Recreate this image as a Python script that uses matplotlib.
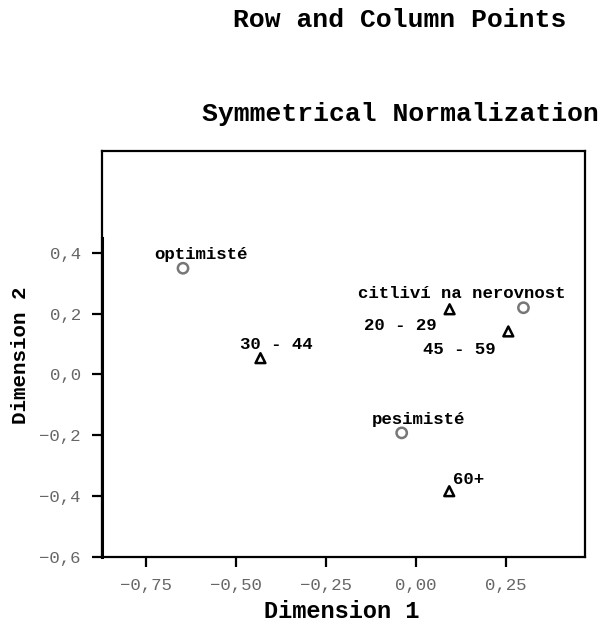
import numpy as np
import matplotlib
matplotlib.use("Agg")
from matplotlib import pyplot as plt

# row points (circles) and column points (triangles)
row_labels = ["optimisté", "citliví na nerovnost", "pesimisté"]
row_x = [-0.646, 0.299, -0.039]
row_y = [0.349, 0.219, -0.193]

col_labels = ["20 - 29", "30 - 44", "45 - 59", "60+"]
col_x = [0.094, -0.431, 0.257, 0.093]
col_y = [0.214, 0.053, 0.141, -0.385]

xticks = [-0.75, -0.50, -0.25, 0.00, 0.25]
yticks = [-0.6, -0.4, -0.2, 0.0, 0.2, 0.4]

# label offsets in pixels (dx, dy)
row_off = [(18, 14), (-62, 14), (17, 13)]
col_off = [(-49, -16), (16, 14), (-49, -18), (19, 12)]

font = "Liberation Mono"
plt.rcParams['font.family'] = [font, 'DejaVu Sans']

fig = plt.figure(figsize=(6.0, 6.23), dpi=100)
ax = fig.add_axes([102.3 / 600, 1 - 556.5 / 623, (584.7 - 102.3) / 600, (556.5 - 151) / 623])

ax.scatter(row_x, row_y, s=55, facecolors='none', edgecolors='#777777', linewidths=1.8, marker='o', zorder=3)
ax.scatter(col_x, col_y, s=50, facecolors='none', edgecolors='black', linewidths=1.8, marker='^', zorder=3)

for lab, x, y, off in zip(row_labels, row_x, row_y, row_off):
    ax.annotate(lab, (x, y), xytext=off, textcoords='offset pixels', ha='center', va='center',
                fontsize=12.5, fontweight='bold')
for lab, x, y, off in zip(col_labels, col_x, col_y, col_off):
    ax.annotate(lab, (x, y), xytext=off, textcoords='offset pixels', ha='center', va='center',
                fontsize=12.5, fontweight='bold')

ax.set_xlim(-0.870, 0.469)
ax.set_ylim(-0.6, 0.735)
ax.set_xticks(xticks)
ax.set_yticks(yticks)
ax.set_xticklabels([("%.2f" % v).replace(".", ",").replace("-", "\u2212") for v in xticks])
ax.set_yticklabels([("%.1f" % v).replace(".", ",").replace("-", "\u2212") for v in yticks])
ax.tick_params(direction='out', length=7.5, width=1.6, labelsize=12.5, labelcolor='#666666', pad=8)

for sp in ax.spines.values():
    sp.set_linewidth(1.6)

# slightly heavier axis line on the left, up to the data range
ax.axvline(ax.get_xlim()[0], ymin=0, ymax=(0.45 + 0.6) / (0.735 + 0.6), color='black', lw=2.2, clip_on=False)

fig.text(400 / 600, 1 - 20 / 623, "Row and Column Points", ha='center', va='center', fontsize=19, fontweight='bold')
fig.text(400 / 600, 1 - 114 / 623, "Symmetrical Normalization", ha='center', va='center', fontsize=19, fontweight='bold')
fig.text(341.5 / 600, 1 - 612 / 623, "Dimension 1", ha='center', va='center', fontsize=17, fontweight='bold')
fig.text(21 / 600, 1 - 355 / 623, "Dimension 2", ha='center', va='center', fontsize=15, fontweight='bold',
         rotation=90)

fig.savefig("out.png", dpi=100, facecolor='white')
